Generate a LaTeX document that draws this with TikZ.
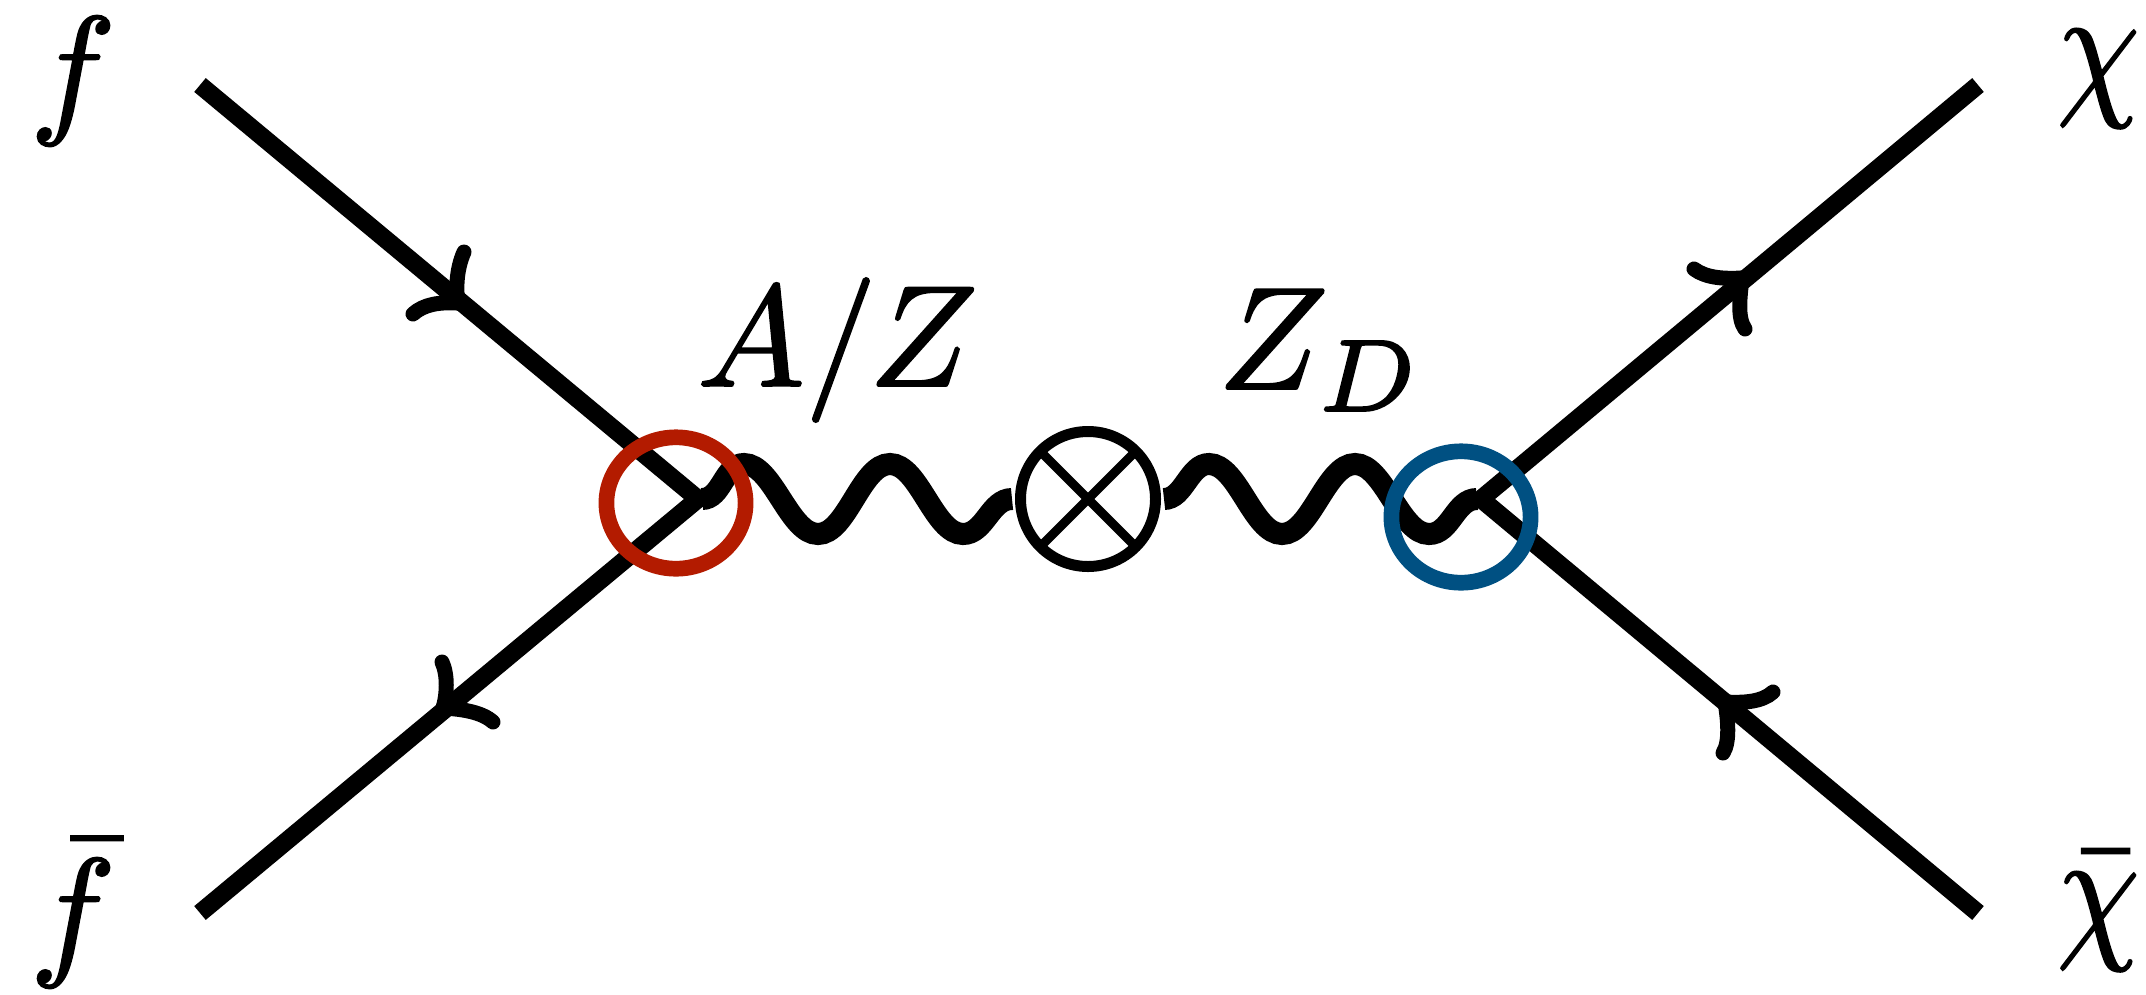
\documentclass[tikz,border=0pt]{standalone}
\usetikzlibrary{shapes.geometric}
\definecolor{ringred}{RGB}{179,27,0}
\definecolor{ringblue}{RGB}{0,80,130}
\tikzset{
  fermion/.style={line width=18pt,line join=miter},
  barb/.style={line width=15pt,line cap=round},
  wavy/.style={line width=22pt},
  ring/.style={ellipse,draw=#1,line width=15.7pt,minimum width=139.2pt,minimum height=131.4pt,inner sep=0pt,outer sep=0pt},
  lab/.style={inner sep=0pt,outer sep=0pt,anchor=base west},
}
\newcommand{\bigmath}[3]{\scalebox{#1}[#2]{\special{pdf:code q 2 Tr 0.13 w 0 G}$#3$\special{pdf:code Q}}}
\begin{document}
\begin{tikzpicture}[x=1pt,y=-1pt]
\useasboundingbox (0,0) rectangle (2146,994);
% end points and vertices
\coordinate (fin) at (200,85);
\coordinate (fbarin) at (200,913);
\coordinate (chiout) at (1978,85);
\coordinate (chibarout) at (1978,913);
\coordinate (v1) at (698,499);
\coordinate (v2) at (1481,499);
\coordinate (w1) at (702,499);
\coordinate (w1e) at (1012,499);
\coordinate (w2) at (1164,499);
\coordinate (w2e) at (1477,499);
% fermion lines
\draw[fermion] (fin) -- (v1) -- (fbarin);
\draw[fermion] (chiout) -- (v2) -- (chibarout);
% arrow barbs
\coordinate (a1) at (458,303);
\draw[barb] (464,252) .. controls (456,270) and (456,290) .. (a1);
\draw[barb] (413,314) .. controls (424,304) and (440,302) .. (a1);
\coordinate (a2) at (1742,278);
\draw[barb] (1694,269) .. controls (1706,278) and (1724,279) .. (a2);
\draw[barb] (1745,329) .. controls (1737,318) and (1740,296) .. (a2);
\coordinate (a3) at (443,708);
\draw[barb] (442,662) .. controls (448,675) and (447,695) .. (a3);
\draw[barb] (493,722) .. controls (482,712) and (462,709) .. (a3);
\coordinate (a4) at (1725,702);
\draw[barb] (1773,692) .. controls (1762,702) and (1744,703) .. (a4);
\draw[barb] (1723,753) .. controls (1730,742) and (1728,720) .. (a4);
% crossed circle
\node[circle,draw,line width=11pt,minimum size=135pt,inner sep=0pt,outer sep=0pt] (cross) at (1088,499) {};
\draw[line width=9pt] (cross.45) -- (cross.225);
\draw[line width=9pt] (cross.135) -- (cross.315);
% wavy lines
\draw[wavy] (w1) .. controls +(20,0) and +(-20,0) .. ++(42,-35)
  .. controls +(29,0) and +(-29,0) .. ++(74,70)
  .. controls +(29,0) and +(-29,0) .. ++(72,-70)
  .. controls +(29,0) and +(-29,0) .. ++(73,70)
  .. controls +(22,0) and +(-22,0) .. (w1e);
\draw[wavy] (w2) .. controls +(20,0) and +(-20,0) .. ++(45,-35)
  .. controls +(29,0) and +(-29,0) .. ++(73,70)
  .. controls +(29,0) and +(-29,0) .. ++(73,-70)
  .. controls +(29,0) and +(-29,0) .. ++(74,70)
  .. controls +(22,0) and +(-22,0) .. (w2e);
% rings
\node[ring=ringred] (r1) at (676,503) {};
\node[ring=ringblue] (r2) at (1461,517) {};
% labels
\node[lab] (lf) at (30,117) {\bigmath{14.4}{14.4}{f}};
\node[lab] (lfb) at (30,959) {\bigmath{14.4}{14.4}{\bar f}};
\node[lab] (lx) at (2057,97) {\bigmath{13.2}{15.5}{\chi}};
\node[lab] (lxb) at (2057,940) {\bigmath{13.2}{15.5}{\bar\chi}};
\node[lab] (lAZ) at (697,386) {\bigmath{14.4}{14.4}{A/Z}};
\node[lab] (lZD) at (1218,389) {\bigmath{14.6}{14.6}{Z_D}};
\end{tikzpicture}
\end{document}
